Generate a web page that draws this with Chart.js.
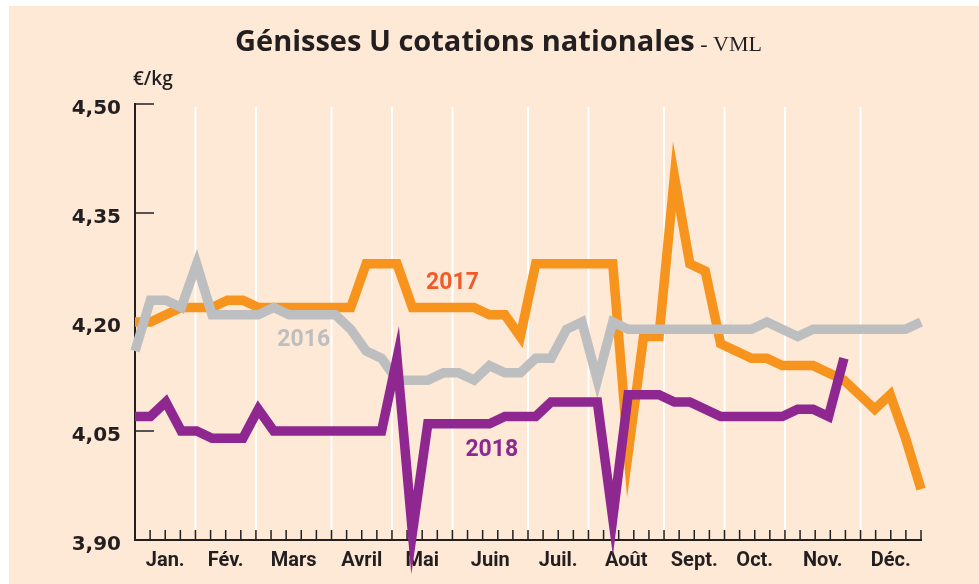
<!DOCTYPE html>
<html lang="fr">
<head>
<meta charset="utf-8">
<title>Génisses U cotations nationales</title>
<script src="https://cdn.jsdelivr.net/npm/chart.js@4.4.1/dist/chart.umd.min.js"></script>
<style>
  html, body { margin: 0; padding: 0; background: #fff; }
  #wrap { position: relative; width: 979px; height: 584px; overflow: hidden; }
  #panel { position: absolute; left: 9px; top: 6px; right: 0; bottom: 0; background: #fde9d6; }
  #chart { position: absolute; left: 0; top: 0; }
</style>
</head>
<body>
<div id="wrap">
  <div id="panel"></div>
  <canvas id="chart" width="979" height="584"></canvas>
</div>
<script>
// mois affichés sous l'axe
const months = ['Jan.', 'Fév.', 'Mars', 'Avril', 'Mai', 'Juin', 'Juil.', 'Août', 'Sept.', 'Oct.', 'Nov.', 'Déc.'];
// début de chaque mois, en traits de graduation (53 traits, 0 à 52)
const monthBounds = [0, 4, 8, 13, 17, 21, 26, 30, 35, 39, 43, 48, 52];
const yTicks = [3.90, 4.05, 4.20, 4.35, 4.50];

// cotations hebdomadaires, €/kg
const prices2016 = [
    4.16, 4.23, 4.23, 4.22, 4.28, 4.21, 4.21, 4.21, 4.21, 4.22,
    4.21, 4.21, 4.21, 4.21, 4.19, 4.16, 4.15, 4.12, 4.12, 4.12,
    4.13, 4.13, 4.12, 4.14, 4.13, 4.13, 4.15, 4.15, 4.19, 4.20,
    4.12, 4.20, 4.19, 4.19, 4.19, 4.19, 4.19, 4.19, 4.19, 4.19,
    4.19, 4.20, 4.19, 4.18, 4.19, 4.19, 4.19, 4.19, 4.19, 4.19,
    4.19, 4.20
];
const prices2017 = [
    4.20, 4.20, 4.21, 4.22, 4.22, 4.22, 4.23, 4.23, 4.22, 4.22,
    4.22, 4.22, 4.22, 4.22, 4.22, 4.28, 4.28, 4.28, 4.22, 4.22,
    4.22, 4.22, 4.22, 4.21, 4.21, 4.18, 4.28, 4.28, 4.28, 4.28,
    4.28, 4.28, 4.02, 4.18, 4.18, 4.40, 4.28, 4.27, 4.17, 4.16,
    4.15, 4.15, 4.14, 4.14, 4.14, 4.13, 4.12, 4.10, 4.08, 4.10,
    4.04, 3.97
];
const prices2018 = [
    4.07, 4.07, 4.09, 4.05, 4.05, 4.04, 4.04, 4.04, 4.08, 4.05,
    4.05, 4.05, 4.05, 4.05, 4.05, 4.05, 4.05, 4.15, 3.91, 4.06,
    4.06, 4.06, 4.06, 4.06, 4.07, 4.07, 4.07, 4.09, 4.09, 4.09,
    4.09, 3.93, 4.10, 4.10, 4.10, 4.09, 4.09, 4.08, 4.07, 4.07,
    4.07, 4.07, 4.07, 4.08, 4.08, 4.07, 4.15
];

const ink = '#231f20';
const orange = '#f7941d';
const grey = '#bcbec0';
const purple = '#8e278f';

// les 52 semaines couvrent les 53 traits de graduation
const lastWeek = prices2017.length - 1;
const tickToWeek = lastWeek / (monthBounds[monthBounds.length - 1]);
const monthMid = months.map((m, i) => (monthBounds[i] + monthBounds[i + 1]) / 2 * tickToWeek);

function toPoints(values) {
    return values.map((v, i) => ({x: i, y: v}));
}

const seriesLabels = [
    {text: '2017', color: '#f15a29', x: 20.6, y: 4.253},
    {text: '2016', color: grey, x: 10.95, y: 4.175},
    {text: '2018', color: purple, x: 23.15, y: 4.024},
];

const decor = {
    id: 'decor',
    beforeDatasetsDraw(chart) {
        const {ctx, chartArea: area, scales: {x, y}} = chart;
        ctx.save();
        // lignes blanches entre les mois
        ctx.strokeStyle = '#ffffff';
        ctx.lineWidth = 2;
        monthBounds.slice(1, -1).forEach(function (t) {
            const px = x.getPixelForValue(t * tickToWeek);
            ctx.beginPath();
            ctx.moveTo(px, area.top + 3);
            ctx.lineTo(px, area.bottom - 10);
            ctx.stroke();
        });
        // petits traits des semaines
        ctx.strokeStyle = ink;
        ctx.lineWidth = 1.5;
        for (let t = 0; t <= monthBounds[monthBounds.length - 1]; t++) {
            const px = x.getPixelForValue(t * tickToWeek);
            ctx.beginPath();
            ctx.moveTo(px, area.bottom - 10);
            ctx.lineTo(px, area.bottom);
            ctx.stroke();
        }
        // traits de l'axe vertical, vers l'intérieur
        yTicks.forEach(function (v) {
            const py = y.getPixelForValue(v);
            ctx.beginPath();
            ctx.moveTo(area.left, py);
            ctx.lineTo(area.left + 19, py);
            ctx.stroke();
        });
        ctx.restore();
        ctx.miterLimit = 20;
    },
    afterDatasetsDraw(chart) {
        const {ctx, scales: {x, y}} = chart;
        ctx.save();
        ctx.font = 'bold 23px Roboto';
        ctx.textAlign = 'center';
        ctx.textBaseline = 'middle';
        seriesLabels.forEach(function (l) {
            ctx.fillStyle = l.color;
            ctx.fillText(l.text, x.getPixelForValue(l.x), y.getPixelForValue(l.y));
        });
        ctx.restore();
    },
    afterDraw(chart) {
        const ctx = chart.ctx;
        ctx.save();
        ctx.fillStyle = ink;
        ctx.textBaseline = 'alphabetic';
        ctx.font = 'bold 29px "Open Sans"';
        const main = 'Génisses U cotations nationales';
        ctx.fillText(main, 235, 51);
        const w = ctx.measureText(main).width;
        ctx.font = '22px "Liberation Serif"';
        ctx.fillText(' - VML', 235 + w, 51);
        ctx.font = '600 19px "Open Sans"';
        ctx.fillText('€/kg', 133, 85);
        ctx.restore();
    }
};

new Chart(document.getElementById('chart'), {
    type: 'line',
    data: {
        datasets: [
            {label: '2018', data: toPoints(prices2018), borderColor: purple, backgroundColor: purple},
            {label: '2016', data: toPoints(prices2016), borderColor: grey, backgroundColor: grey},
            {label: '2017', data: toPoints(prices2017), borderColor: orange, backgroundColor: orange},
        ]
    },
    options: {
        responsive: false,
        animation: false,
        devicePixelRatio: 1,
        layout: {padding: {top: 104, right: 58, left: 0, bottom: 0}},
        elements: {
            line: {borderWidth: 9.5, tension: 0, borderJoinStyle: 'miter', borderCapStyle: 'butt', fill: false},
            point: {radius: 0, hoverRadius: 0}
        },
        datasets: {line: {clip: false}},
        plugins: {
            legend: {display: false},
            tooltip: {enabled: false},
        },
        scales: {
            x: {
                type: 'linear',
                min: 0,
                max: lastWeek,
                grid: {display: false, drawTicks: false},
                border: {display: true, color: ink, width: 2},
                afterBuildTicks: function (scale) {
                    scale.ticks = monthMid.map(v => ({value: v}));
                },
                afterFit: function (scale) {
                    scale.height = 44;
                },
                ticks: {
                    autoSkip: false,
                    maxRotation: 0,
                    padding: 9,
                    color: ink,
                    font: {family: 'Roboto', size: 20, weight: 'bold'},
                    callback: (value, index) => months[index]
                }
            },
            y: {
                min: yTicks[0],
                max: yTicks[yTicks.length - 1],
                grid: {display: false, drawTicks: false},
                border: {display: true, color: ink, width: 2},
                afterBuildTicks: function (scale) {
                    scale.ticks = yTicks.map(v => ({value: v}));
                },
                afterFit: function (scale) {
                    scale.width = 135;
                },
                ticks: {
                    padding: 14,
                    labelOffset: 5,
                    color: ink,
                    font: {family: 'DejaVu Sans', size: 20, weight: 'bold'},
                    callback: v => v.toFixed(2).replace('.', ',')
                }
            }
        }
    },
    plugins: [decor]
});
</script>
</body>
</html>
